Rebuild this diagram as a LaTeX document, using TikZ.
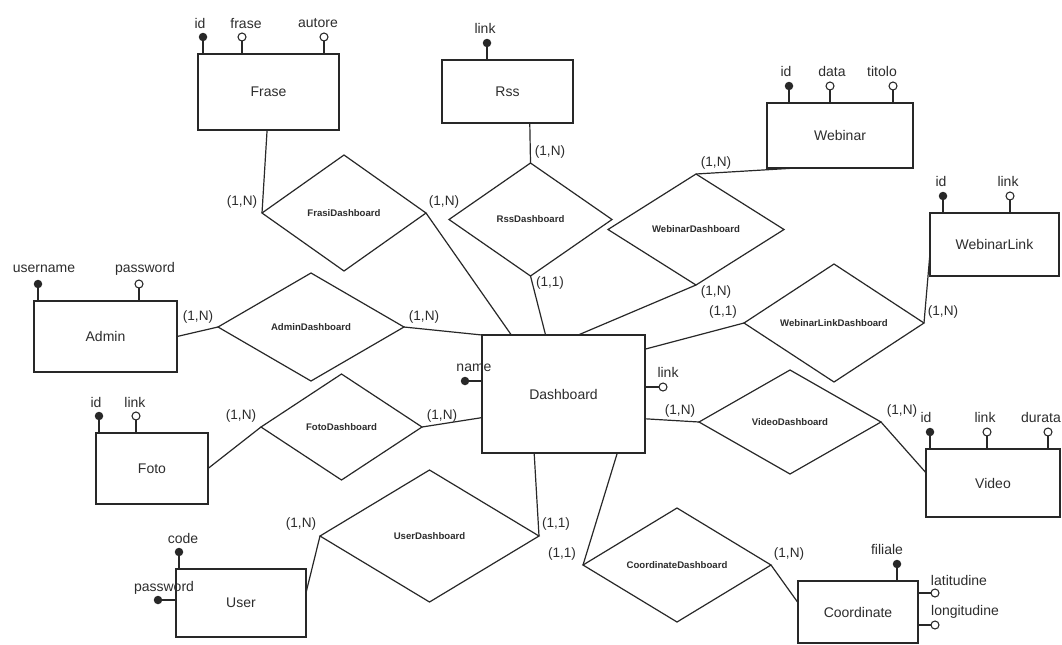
\documentclass[tikz,border=0pt]{standalone}
\usepackage{fontspec}
\setmainfont{Liberation Sans}
\usetikzlibrary{shapes.geometric,calc}
\def\pxu{*0.75pt}
\definecolor{lc}{RGB}{40,40,40}
\definecolor{tc}{RGB}{45,45,45}
\begin{document}
\begin{tikzpicture}[x=0.75pt,y=-0.75pt,
  every node/.style={outer sep=0pt},
  entity/.style={draw=lc, line width=0.9pt, fill=white, inner sep=0pt, text=tc, font=\fontsize{10.5}{12}\selectfont},
  rel/.style={diamond, aspect=1.6, draw=lc, line width=0.9pt, inner sep=0pt, text=tc, font=\bfseries\fontsize{7.2}{8}\selectfont},
  conn/.style={draw=lc, line width=0.9pt},
  keyattr/.style={circle, fill=lc, inner sep=0pt, minimum size=8.5\pxu},
  optattr/.style={circle, draw=lc, fill=white, line width=0.8pt, inner sep=0pt, minimum size=8\pxu},
  atxt/.style={inner sep=0pt, text=tc, font=\fontsize{10.5}{12}\selectfont},
  card/.style={inner sep=0pt, text=tc, font=\fontsize{10.2}{12}\selectfont}
]
\useasboundingbox[fill=white] (0,0) rectangle (1062,644);

% entities
\node[entity, minimum width=141\pxu, minimum height=76\pxu] (frase) at (268.5,92) {Frase};
\node[entity, minimum width=131\pxu, minimum height=63\pxu] (rss) at (507.5,91.5) {Rss};
\node[entity, minimum width=146\pxu, minimum height=65\pxu] (webinar) at (840,135.5) {Webinar};
\node[entity, minimum width=129\pxu, minimum height=63\pxu] (wlink) at (994.5,244.5) {WebinarLink};
\node[entity, minimum width=143\pxu, minimum height=71\pxu] (admin) at (105.5,336.5) {Admin};
\node[entity, minimum width=112\pxu, minimum height=71\pxu] (foto) at (152,468.5) {Foto};
\node[entity, minimum width=163\pxu, minimum height=118\pxu] (dash) at (563.5,394) {Dashboard};
\node[entity, minimum width=134\pxu, minimum height=68\pxu] (video) at (993,483) {Video};
\node[entity, minimum width=130\pxu, minimum height=68\pxu] (user) at (241,603) {User};
\node[entity, minimum width=120\pxu, minimum height=62\pxu] (coord) at (858,612) {Coordinate};

% relationships
\node[rel, minimum width=164\pxu, minimum height=116\pxu] (frasiD) at (344,213) {FrasiDashboard};
\node[rel, minimum width=163\pxu, minimum height=113\pxu] (rssD) at (530.5,219.5) {RssDashboard};
\node[rel, minimum width=176\pxu, minimum height=111\pxu] (webD) at (696,229.5) {WebinarDashboard};
\node[rel, minimum width=186\pxu, minimum height=108\pxu] (adminD) at (311,327) {AdminDashboard};
\node[rel, minimum width=180\pxu, minimum height=118\pxu] (wlD) at (834,323) {WebinarLinkDashboard};
\node[rel, minimum width=161\pxu, minimum height=106\pxu] (fotoD) at (341.5,427) {FotoDashboard};
\node[rel, minimum width=182\pxu, minimum height=104\pxu] (videoD) at (790,422) {VideoDashboard};
\node[rel, minimum width=219\pxu, minimum height=132\pxu] (userD) at (429.5,536) {UserDashboard};
\node[rel, minimum width=188\pxu, minimum height=114\pxu] (coordD) at (677,565) {CoordinateDashboard};

% connectors
\draw[conn] ($(frase.south west)!0.49!(frase.south east)$) -- (frasiD.west);
\draw[conn] (frasiD.east) -- ($(dash.north west)!0.18!(dash.north east)$);
\draw[conn] ($(rss.south west)!0.67!(rss.south east)$) -- (rssD.north);
\draw[conn] (rssD.south) -- ($(dash.north west)!0.39!(dash.north east)$);
\draw[conn] (webD.north) -- ($(webinar.south west)!0.2!(webinar.south east)$);
\draw[conn] (webD.south) -- ($(dash.north west)!0.59!(dash.north east)$);
\draw[conn] (admin.east) -- (adminD.west);
\draw[conn] (adminD.east) -- (dash.north west);
\draw[conn] ($(dash.north east)!0.12!(dash.south east)$) -- (wlD.west);
\draw[conn] (wlD.east) -- ($(wlink.north west)!0.63!(wlink.south west)$);
\draw[conn] (foto.east) -- (fotoD.west);
\draw[conn] (fotoD.east) -- ($(dash.north west)!0.70!(dash.south west)$);
\draw[conn] ($(dash.north east)!0.71!(dash.south east)$) -- (videoD.west);
\draw[conn] (videoD.east) -- ($(video.north west)!0.35!(video.south west)$);
\draw[conn] ($(user.north east)!0.35!(user.south east)$) -- (userD.west);
\draw[conn] (userD.east) -- ($(dash.south west)!0.32!(dash.south east)$);
\draw[conn] ($(dash.south west)!0.83!(dash.south east)$) -- (coordD.west);
\draw[conn] (coordD.east) -- ($(coord.north west)!0.35!(coord.south west)$);

% attributes: Frase
\node[keyattr] (fraseid) at (203,37) {};
\node[optattr] (frasefr) at (242,37) {};
\node[optattr] (fraseau) at (324,37) {};
\draw[conn] (fraseid) -- (fraseid |- frase.north);
\draw[conn] (frasefr) -- (frasefr |- frase.north);
\draw[conn] (fraseau) -- (fraseau |- frase.north);
\node[atxt] (fraseidt) at (200,23) {id};
\node[atxt] (frasefrt) at (246,23) {frase};
\node[atxt] (fraseaut) at (318,23) {autore};

% Rss
\node[keyattr] (rsslink) at (487,43) {};
\draw[conn] (rsslink) -- (rsslink |- rss.north);
\node[atxt] (rsslinkt) at (485,28) {link};

% Webinar
\node[keyattr] (webid) at (789,86) {};
\node[optattr] (webdata) at (830,86) {};
\node[optattr] (webtit) at (893,86) {};
\draw[conn] (webid) -- (webid |- webinar.north);
\draw[conn] (webdata) -- (webdata |- webinar.north);
\draw[conn] (webtit) -- (webtit |- webinar.north);
\node[atxt] (webidt) at (786,71) {id};
\node[atxt] (webdatat) at (832,71) {data};
\node[atxt] (webtitt) at (882,71) {titolo};

% WebinarLink
\node[keyattr] (wlid) at (943,196) {};
\node[optattr] (wllink) at (1010,196) {};
\draw[conn] (wlid) -- (wlid |- wlink.north);
\draw[conn] (wllink) -- (wllink |- wlink.north);
\node[atxt] (wlidt) at (941,181) {id};
\node[atxt] (wllinkt) at (1008,181) {link};

% Admin
\node[keyattr] (adminus) at (38,284) {};
\node[optattr] (adminpw) at (139,284) {};
\draw[conn] (adminus) -- (adminus |- admin.north);
\draw[conn] (adminpw) -- (adminpw |- admin.north);
\node[atxt] (adminust) at (44,269) {username};
\node[atxt] (adminpwt) at (145,269) {password};

% Foto
\node[keyattr] (fotoid) at (99,416) {};
\node[optattr] (fotolink) at (136,416) {};
\draw[conn] (fotoid) -- (fotoid |- foto.north);
\draw[conn] (fotolink) -- (fotolink |- foto.north);
\node[atxt] (fotoidt) at (96,402) {id};
\node[atxt] (fotolinkt) at (135,402) {link};

% Dashboard
\node[keyattr] (dashname) at (465,381) {};
\node[optattr] (dashlink) at (663,387) {};
\draw[conn] (dashname) -- (dashname -| dash.west);
\draw[conn] (dashlink) -- (dashlink -| dash.east);
\node[atxt] (dashnamet) at (474,368) {name};
\node[atxt] (dashlinkt) at (668,372) {link};

% Video
\node[keyattr] (vidid) at (930,432) {};
\node[optattr] (vidlink) at (987,432) {};
\node[optattr] (viddur) at (1048,432) {};
\draw[conn] (vidid) -- (vidid |- video.north);
\draw[conn] (vidlink) -- (vidlink |- video.north);
\draw[conn] (viddur) -- (viddur |- video.north);
\node[atxt] (vididt) at (926,417) {id};
\node[atxt] (vidlinkt) at (985,417) {link};
\node[atxt] (viddurt) at (1041,417) {durata};

% User
\node[keyattr] (usercode) at (179,552) {};
\node[keyattr] (userpw) at (158,600) {};
\draw[conn] (usercode) -- (usercode |- user.north);
\draw[conn] (userpw) -- (userpw -| user.west);
\node[atxt] (usercodet) at (183,538) {code};
\node[atxt] (userpwt) at (164,588) {password};

% Coordinate
\node[keyattr] (coordfil) at (897,564) {};
\node[optattr] (coordlat) at (935,593) {};
\node[optattr] (coordlon) at (935,625) {};
\draw[conn] (coordfil) -- (coordfil |- coord.north);
\draw[conn] (coordlat) -- (coordlat -| coord.east);
\draw[conn] (coordlon) -- (coordlon -| coord.east);
\node[atxt] (coordfilt) at (887,549) {filiale};
\node[atxt] (coordlatt) at (959,580) {latitudine};
\node[atxt] (coordlont) at (965,612) {longitudine};

% cardinalities
\node[card] (c1) at (242,202) {(1,N)};
\node[card] (c2) at (444,202) {(1,N)};
\node[card] (c3) at (550,152) {(1,N)};
\node[card] (c4) at (550,283) {(1,1)};
\node[card] (c5) at (716,163) {(1,N)};
\node[card] (c6) at (716,292) {(1,N)};
\node[card] (c7) at (723,312) {(1,1)};
\node[card] (c8) at (943,312) {(1,N)};
\node[card] (c9) at (198,317) {(1,N)};
\node[card] (c10) at (424,317) {(1,N)};
\node[card] (c11) at (241,416) {(1,N)};
\node[card] (c12) at (442,416) {(1,N)};
\node[card] (c13) at (680,411) {(1,N)};
\node[card] (c14) at (902,411) {(1,N)};
\node[card] (c15) at (301,524) {(1,N)};
\node[card] (c16) at (556,524) {(1,1)};
\node[card] (c17) at (562,554) {(1,1)};
\node[card] (c18) at (789,554) {(1,N)};
\end{tikzpicture}
\end{document}
